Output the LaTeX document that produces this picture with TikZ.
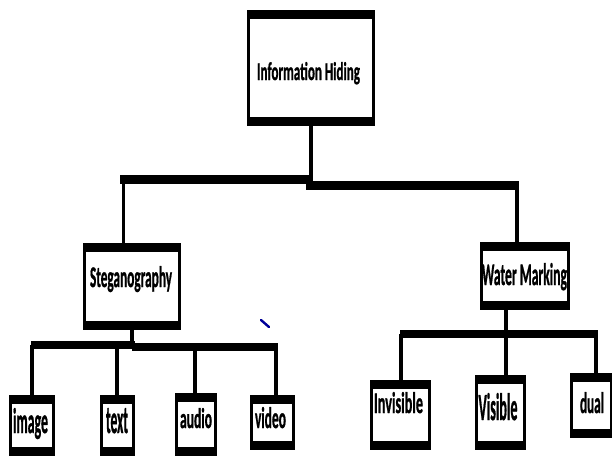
\documentclass[tikz,border=0pt]{standalone}
\usepackage{fontspec}
\setmainfont{Carlito}
\newfontfamily\labf{Carlito}[UprightFont=*-Bold, FakeBold=1.2]
\usepackage{graphicx}
\usetikzlibrary{fit}
\newdimen\pxu \pxu=0.75pt
\newcommand\fitt[3]{\resizebox{#1\pxu}{#2\pxu}{\labf #3}}
\begin{document}
\begin{tikzpicture}[x=0.75pt,y=-0.75pt,
  box/.style={draw, line width=2.6pt, inner sep=-1.3pt,
    path picture={
      \fill (path picture bounding box.north west) rectangle ([yshift=-5.5pt]path picture bounding box.north east);
      \fill (path picture bounding box.south west) rectangle ([yshift=5.5pt]path picture bounding box.south east);}},
  lab/.style={anchor=base, inner sep=0pt, text=black},
  stem/.style={line width=2.8pt},
  bar/.style={line width=6.5pt}]
\useasboundingbox (0,0) rectangle (612,455);
\fill[white] (0,0) rectangle (612,455);

% boxes
\node[box, fit={(247,10)(375,126)}] (ih) {};
\node[box, fit={(83,243)(181,330)}] (steg) {};
\node[box, fit={(480,242)(570,310)}] (wm) {};
\node[box, fit={(9,395)(55,456)}] (img) {};
\node[box, fit={(100,395)(135,456)}] (txt) {};
\node[box, fit={(175,393)(217,456)}] (aud) {};
\node[box, fit={(250,395)(295,450)}] (vid) {};
\node[box, fit={(370,380)(431,450)}] (inv) {};
\node[box, fit={(475,375)(526,450)}] (vis) {};
\node[box, fit={(570,373)(613,438)}] (dul) {};

% labels
\node[lab] (ihT) at (308.5,80) {\fitt{103}{18}{Information Hiding}};
\node[lab] (stegT) at (131,287) {\fitt{82}{21}{Steganography}};
\node[lab] (wmT) at (524.5,285) {\fitt{85}{22}{Water Marking}};
\node[lab] (imgT) at (30.5,433) {\fitt{35}{25}{image}};
\node[lab] (txtT) at (117,433) {\fitt{22}{25}{text}};
\node[lab] (audT) at (196,428) {\fitt{32}{20}{audio}};
\node[lab] (vidT) at (270.5,428) {\fitt{31}{21}{video}};
\node[lab] (invT) at (398.5,413) {\fitt{49}{21}{Invisible}};
\node[lab] (visT) at (498,420) {\fitt{39}{27}{Visible}};
\node[lab] (dulT) at (592,413) {\fitt{24}{21}{dual}};

% top level
\coordinate (jL) at (120,179.5);
\coordinate (jM) at (310,179.5);
\coordinate (jM2) at (306,185.5);
\coordinate (jR) at (519,185.5);
\coordinate (sv) at (123.5,183);
\coordinate (wv) at (517,188);
\draw[stem] (ih.south) -- (ih.south |- jM2);
\draw[bar] (jL) -- (jM);
\draw[bar] (jM2) -- (jR);
\draw[stem] (sv) -- (sv |- steg.north);
\draw[stem] (wv) -- (wv |- wm.north);

% steganography branch
\coordinate (sb1) at (31,345);
\coordinate (sb2) at (135,345);
\coordinate (sb3) at (132,347);
\coordinate (sb4) at (278,347);
\draw[stem] (steg.south) -- (steg.south |- sb3);
\draw[bar] (sb1) -- (sb2);
\draw[bar] (sb3) -- (sb4);
\coordinate (l1) at (32,345);
\coordinate (l2) at (117,346);
\coordinate (l3) at (195,347);
\coordinate (l4) at (276,347);
\draw[stem] (l1) -- (l1 |- img.north);
\draw[stem] (l2) -- (l2 |- txt.north);
\draw[stem] (l3) -- (l3 |- aud.north);
\draw[stem] (l4) -- (l4 |- vid.north);

% water marking branch
\coordinate (wb1) at (400,334);
\coordinate (wb2) at (598,334);
\coordinate (ws) at (506,334);
\draw[stem] (ws |- wm.south) -- (ws);
\draw[bar] (wb1) -- (wb2);
\coordinate (r1) at (401,334);
\coordinate (r3) at (596,334);
\draw[stem] (r1) -- (r1 |- inv.north);
\draw[stem] (ws) -- (ws |- vis.north);
\draw[stem] (r3) -- (r3 |- dul.north);

% small blue mark
\draw[blue!60!black, line width=1.8pt, line cap=round] (261,320) -- (269,327);
\end{tikzpicture}
\end{document}
